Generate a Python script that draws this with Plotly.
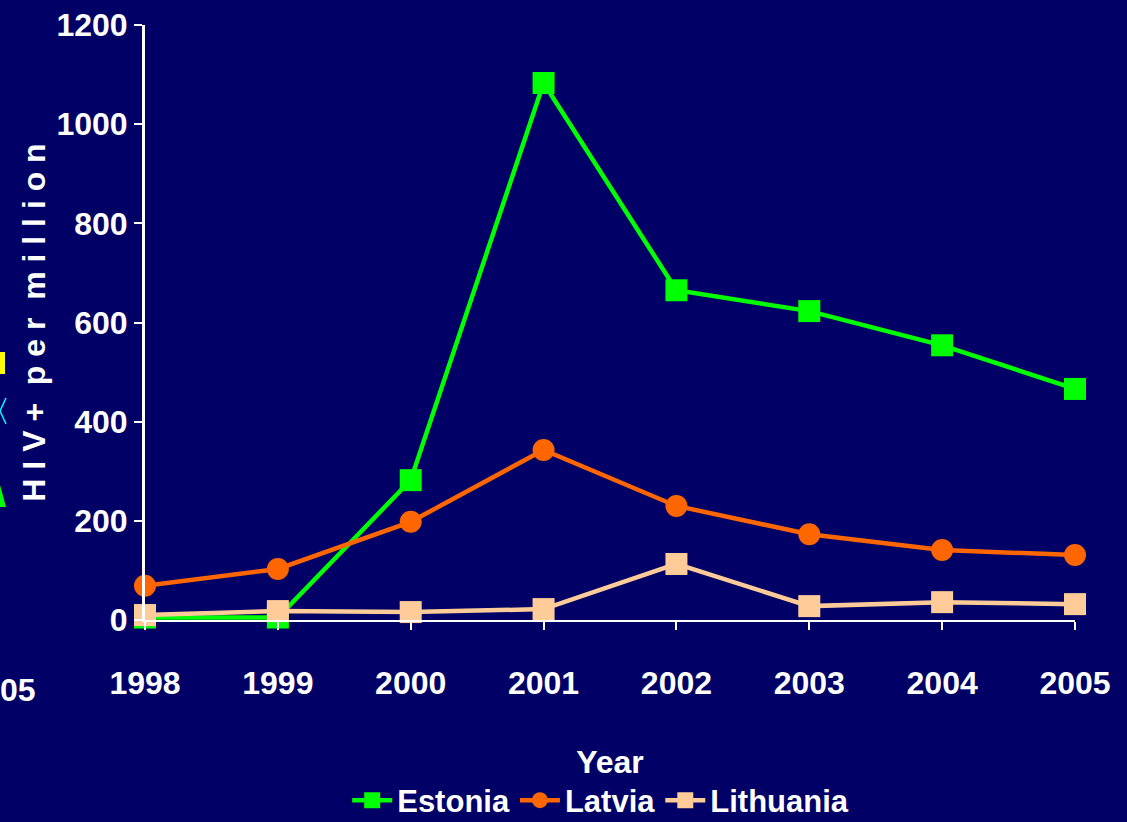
import plotly.graph_objects as go

years = [1998, 1999, 2000, 2001, 2002, 2003, 2004, 2005]
estonia = [5, 5, 282, 1083, 665, 623, 554, 466]
latvia = [69, 103, 198, 343, 230, 173, 141, 131]
lithuania = [10, 18, 16, 22, 113, 28, 36, 32]
y_ticks = [0, 200, 400, 600, 800, 1000, 1200]

FONT = "Liberation Sans Narrow, Liberation Sans, Arial Narrow, Arial, sans-serif"
BG = "#000066"

fig = go.Figure()
fig.add_trace(go.Scatter(x=years, y=estonia, name="<b>Estonia</b>", mode="lines+markers",
                         line=dict(color="#00FF00", width=4.5), cliponaxis=False,
                         marker=dict(symbol="square", size=22, color="#00FF00")))
fig.add_trace(go.Scatter(x=years, y=latvia, name="<b>Latvia</b>", mode="lines+markers",
                         line=dict(color="#FF6600", width=4.5), cliponaxis=False,
                         marker=dict(symbol="circle", size=22, color="#FF6600")))
fig.add_trace(go.Scatter(x=years, y=lithuania, name="<b>Lithuania</b>", mode="lines+markers",
                         line=dict(color="#FFCC99", width=4.5), cliponaxis=False,
                         marker=dict(symbol="square", size=22, color="#FFCC99")))

fig.update_layout(
    width=1127, height=822,
    paper_bgcolor=BG, plot_bgcolor=BG,
    margin=dict(l=145, r=52, t=25, b=202, autoexpand=False),
    font=dict(family=FONT, color="white", size=30),
    showlegend=True,
    legend=dict(orientation="h", x=0.49, xanchor="center", y=-0.258, yanchor="top",
                font=dict(size=31, family=FONT, color="white"),
                bgcolor="rgba(0,0,0,0)", itemwidth=40, tracegroupgap=0),
    xaxis=dict(range=[1998, 2005], tickmode="array", tickvals=years,
               ticktext=[f"<b>{y}</b>" for y in years], automargin=False,
               showgrid=False, zeroline=False, showline=True, linecolor="white", linewidth=2,
               ticks="outside", ticklen=8, tickcolor="white", tickwidth=2,
               tickfont=dict(size=32), ticklabelstandoff=26,
               title=dict(text="<b>Year</b>", font=dict(size=32), standoff=50)),
    yaxis=dict(range=[0, 1200], tickmode="array", tickvals=y_ticks,
               ticktext=[f"<b>{v}</b>" for v in y_ticks], automargin=False,
               showgrid=False, zeroline=False, showline=True, linecolor="white", linewidth=3,
               ticks="outside", ticklen=8, tickcolor="white", tickwidth=2,
               tickfont=dict(size=32),
               title=dict(text="H I V +  p e r  m i l l i o n",
                          font=dict(size=32, weight=600), standoff=2)),
)

# cropped fragments of a neighbouring chart at the left edge
fig.add_annotation(text="<b>05</b>", xref="paper", yref="paper", x=-147/930, y=(620-690)/595,
                   xanchor="left", yanchor="middle", showarrow=False, font=dict(size=32, color="white"))
fig.add_shape(type="rect", xref="paper", yref="paper", x0=-145/930, x1=-140/930,
              y0=(620-374)/595, y1=(620-352)/595, fillcolor="#FFFF00", line=dict(width=0))
fig.add_shape(type="path", xref="paper", yref="paper",
              path=f"M {-139/930} {(620-398)/595} L {-145/930} {(620-411)/595} L {-139/930} {(620-424)/595}",
              line=dict(color="#00FFFF", width=1.5))
fig.add_shape(type="path", xref="paper", yref="paper",
              path=f"M {-145/930} {(620-485)/595} L {-139/930} {(620-507)/595} L {-145/930} {(620-507)/595} Z",
              fillcolor="#00FF00", line=dict(width=0))

fig.write_html("out.html", config={"displayModeBar": False},
               post_script="document.body.style.margin='0';document.body.style.background='#000066';")
